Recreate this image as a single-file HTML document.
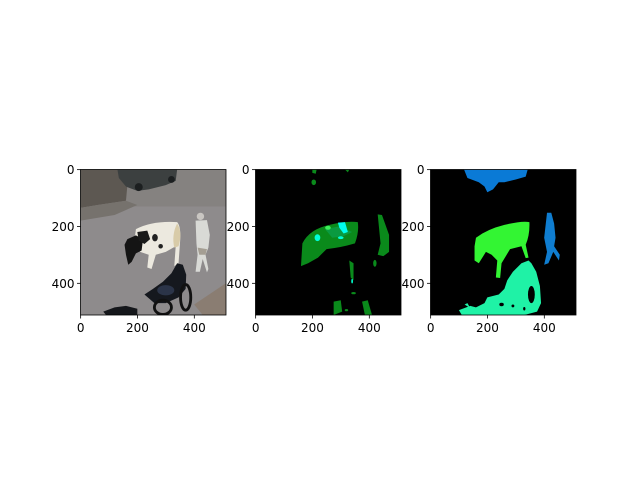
<!DOCTYPE html>
<html><head><meta charset="utf-8"><style>
body{margin:0;background:#fff}
svg text{font-family:"DejaVu Sans","Liberation Sans",sans-serif;font-size:12px;fill:#000}
</style></head><body>
<svg id="fig" width="640" height="480" viewBox="0 0 640 480" xmlns="http://www.w3.org/2000/svg">
<rect width="640" height="480" fill="#fff"/>
</svg>
<script>
const imageExtent = 512;
const xTickValues = [0, 200, 400];
const yTickValues = [0, 200, 400];
const panelNames = ["input-image", "predicted-mask", "ground-truth-mask"];
const panelLefts = [80.5, 255.5, 430.5];
const panelTop = 169.5, panelSize = 145.5;
const NS = "http://www.w3.org/2000/svg";
const fig = document.getElementById("fig");

const contents = [
`<rect width="512" height="512" fill="#8e8b8c"/>
<rect width="512" height="130" fill="#858280"/>
<polygon points="0,0 170,0 160,110 60,125 0,135" fill="#5d5852"/>
<polygon points="0,135 60,125 160,110 200,125 120,160 0,180" fill="#76726d"/>
<path d="M130,0 L340,0 L335,40 L300,55 L240,70 L200,75 L160,60 L135,30Z" fill="#3c4040"/>
<circle cx="205" cy="62" r="14" fill="#1c1f20"/><circle cx="320" cy="35" r="12" fill="#1c1f20"/>
<polygon points="400,475 512,400 512,512 430,512" fill="#8a7d72"/>
<path d="M195,210 Q250,180 340,185 Q355,200 350,260 L345,330 L330,340 L335,270 L300,290 L265,300 L250,350 L235,345 L240,300 L210,290 L190,250 Z" fill="#ece9df"/>
<path d="M340,190 Q360,220 345,270 L330,275 Q320,230 340,190Z" fill="#d8cba8"/>
<path d="M165,245 L195,232 L220,245 L215,285 L195,295 L180,325 L168,335 L160,300 L155,265Z" fill="#141414"/>
<path d="M200,220 L235,215 L245,245 L225,262 L205,250Z" fill="#1a1a1a"/>
<ellipse cx="262" cy="240" rx="10" ry="13" fill="#222"/><ellipse cx="282" cy="270" rx="8" ry="8" fill="#222"/>
<circle cx="422" cy="165" r="13" fill="#c9c6c2"/>
<path d="M405,180 L445,178 L455,230 L450,275 L440,300 L450,350 L445,362 L430,315 L420,360 L405,360 L412,300 L408,260 Z" fill="#d9dad6"/>
<path d="M412,275 L445,280 L440,300 L418,300Z" fill="#a49e93"/>
<path d="M225,440 L255,420 L290,395 L320,365 L340,330 L360,335 L372,370 L370,420 L345,450 L300,470 L260,470 Z" fill="#15181e"/>
<ellipse cx="370" cy="450" rx="18" ry="45" fill="none" stroke="#111" stroke-width="10"/>
<ellipse cx="290" cy="485" rx="30" ry="25" fill="none" stroke="#111" stroke-width="10"/>
<ellipse cx="300" cy="425" rx="30" ry="18" fill="#2b3448"/>
<path d="M80,500 L120,485 L160,480 L200,490 L200,512 L90,512Z" fill="#15171b"/>`,
`<rect width="512" height="512" fill="#000"/>
<path d="M165,260 Q190,210 260,195 Q320,180 360,185 Q365,220 350,260 Q300,275 250,280 L220,310 L185,330 L160,340 Z" fill="#0a8a1b"/>
<path d="M245,210 L270,205 L295,200 L340,220 L310,235 L270,240 Z" fill="#0a9a40"/>
<path d="M290,187 L315,185 L325,220 L310,225 L295,205Z" fill="#00ffee"/>
<ellipse cx="255" cy="205" rx="10" ry="7" fill="#3cf05a"/>
<ellipse cx="218" cy="240" rx="10" ry="12" fill="#00ffd8"/>
<ellipse cx="300" cy="240" rx="10" ry="5" fill="#00ffd8"/>
<path d="M430,158 L445,160 L470,230 L470,290 L450,305 L430,300 L440,260 Z" fill="#0a8a1b"/>
<path d="M200,0 L215,0 L212,15 L200,12Z" fill="#0a8a1b"/><path d="M315,0 L330,0 L325,10Z" fill="#0a8a1b"/>
<ellipse cx="205" cy="45" rx="8" ry="10" fill="#0a8a1b"/>
<path d="M330,320 L345,330 L345,390 L335,380Z" fill="#0a8a1b"/><ellipse cx="340" cy="393" rx="3" ry="8" fill="#00ffcc"/>
<ellipse cx="420" cy="330" rx="6" ry="12" fill="#0a8a1b"/>
<path d="M275,465 L300,460 L305,500 L275,512Z" fill="#0a8a1b"/>
<path d="M375,465 L395,460 L410,512 L385,512Z" fill="#0a8a1b"/>
<ellipse cx="345" cy="435" rx="8" ry="4" fill="#0a8a1b"/><ellipse cx="320" cy="495" rx="6" ry="4" fill="#0a8a1b"/>`,
`<rect width="512" height="512" fill="#000"/>
<path d="M118,0 L342,0 L335,25 L300,35 L260,45 L240,45 L220,70 L200,80 L190,60 L170,45 L130,30 Z" fill="#0a7ad6"/>
<path d="M160,240 Q200,210 260,195 Q320,180 348,185 Q350,230 335,265 L345,310 L335,312 L320,270 L280,280 L250,330 L245,382 L230,380 L235,320 L215,300 L195,290 L170,330 L155,320 L155,270 Z" fill="#33f533"/>
<path d="M410,152 L425,152 L435,190 L440,240 L435,270 L455,300 L452,320 L432,290 L415,330 L400,335 L410,290 L400,240 Z" fill="#0f7dd0"/>
<path d="M290,360 L320,330 L345,320 L355,330 L372,360 L385,410 L389,470 L375,500 L330,512 L110,512 L100,495 L140,480 L160,485 L190,470 L200,450 L240,440 L260,420 L270,390 Z" fill="#1ff2a6"/>
<path d="M120,475 L130,470 L140,488Z" fill="#1ff2a6"/>
<ellipse cx="355" cy="440" rx="12" ry="30" fill="#000"/>
<ellipse cx="250" cy="475" rx="8" ry="6" fill="#000"/><ellipse cx="290" cy="480" rx="5" ry="5" fill="#000"/><ellipse cx="330" cy="490" rx="4" ry="6" fill="#000"/>`
];

for (let p = 0; p < 3; p++) {
  const L = panelLefts[p];
  const sx = v => L + (v) / imageExtent * panelSize;
  const sy = v => panelTop + (v) / imageExtent * panelSize;
  const g = document.createElementNS(NS, "g");
  
  
  const img = document.createElementNS(NS, "svg");
  img.setAttribute("x", L); img.setAttribute("y", panelTop);
  img.setAttribute("width", panelSize); img.setAttribute("height", panelSize);
  img.setAttribute("viewBox", `0 0 ${imageExtent} ${imageExtent}`);
  img.setAttribute("preserveAspectRatio", "none");
  
  
  img.innerHTML = contents[p];
  g.appendChild(img);
  const frame = document.createElementNS(NS, "rect");
  frame.setAttribute("x", L); frame.setAttribute("y", panelTop);
  frame.setAttribute("width", panelSize); frame.setAttribute("height", panelSize);
  frame.setAttribute("fill", "none"); frame.setAttribute("stroke", "#000"); frame.setAttribute("stroke-width", "0.8");
  
  
  g.appendChild(frame);
  xTickValues.forEach(v => {
    const x = sx(v + 0.5), y0 = panelTop + panelSize;
    const t = document.createElementNS(NS, "line");
    t.setAttribute("x1", x); t.setAttribute("x2", x); t.setAttribute("y1", y0); t.setAttribute("y2", y0 + 3.5);
    t.setAttribute("stroke", "#000"); t.setAttribute("stroke-width", "0.8");
    
    
    g.appendChild(t);
    const tx = document.createElementNS(NS, "text");
    tx.setAttribute("x", x); tx.setAttribute("y", y0 + 17); tx.setAttribute("text-anchor", "middle");
    tx.textContent = v;
    
    
    g.appendChild(tx);
  });
  yTickValues.forEach(v => {
    const y = sy(v + 0.5);
    const t = document.createElementNS(NS, "line");
    t.setAttribute("x1", L - 3.5); t.setAttribute("x2", L); t.setAttribute("y1", y); t.setAttribute("y2", y);
    t.setAttribute("stroke", "#000"); t.setAttribute("stroke-width", "0.8");
    
    
    g.appendChild(t);
    const tx = document.createElementNS(NS, "text");
    tx.setAttribute("x", L - 6); tx.setAttribute("y", y + 4.5); tx.setAttribute("text-anchor", "end");
    tx.textContent = v;
    
    
    g.appendChild(tx);
  });
  fig.appendChild(g);
}
</script>
</body></html>
